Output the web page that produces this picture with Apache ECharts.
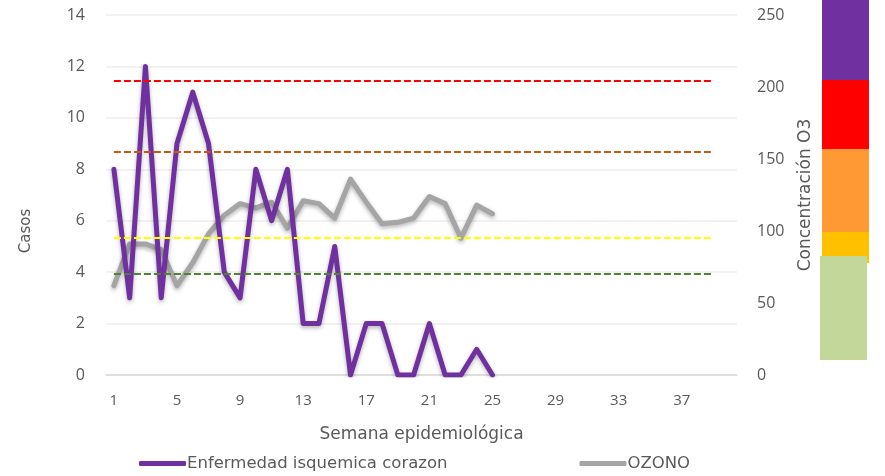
<!DOCTYPE html>
<html>
<head>
<meta charset="utf-8">
<script src="https://cdn.jsdelivr.net/npm/echarts@6/dist/echarts.min.js"></script>
<style>
  html, body { margin: 0; padding: 0; background: #fff; }
  #chart { width: 885px; height: 476px; }
</style>
</head>
<body>
<div id="chart"></div>
<script>
// semanas epidemiologicas 1..40
var semanas = [];
for (var i = 1; i <= 40; i++) semanas.push(String(i));

// casos por semana
var casos = [8, 3, 12, 3, 9, 11, 9, 4, 3, 8, 6, 8, 2, 2, 5, 0, 2, 2, 0, 0, 2, 0, 0, 1, 0];

// concentracion de ozono
var ozono = [62, 91, 91, 87, 62, 78, 98, 111, 119, 116, 120, 102, 121, 119, 109, 136,
             120, 105, 106, 109, 124, 119, 95, 118, 112];

// limites de concentracion (eje derecho)
var limites = [204, 155, 95, 70];
var limColores = ["#FF0000", "#C55A11", "#FFFF00", "#548235"];
var limFin = "39";

var txt = "#595959";
var font = "Open Sans";
var wide = "DejaVu Sans";

var chart = echarts.init(document.getElementById("chart"));

var markData = limites.map(function (v, k) {
    return [
        { coord: ["1", v], lineStyle: { color: limColores[k] } },
        { coord: [limFin, v] }
    ];
});

var option = {
    animation: false,
    textStyle: { fontFamily: font, color: txt },
    grid: { left: 106, right: 148, top: 15, bottom: 101 },
    legend: {
        data: ["Enfermedad isquemica corazon", "OZONO"],
        left: 134,
        top: 450,
        icon: "roundRect",
        itemWidth: 47,
        itemHeight: 5,
        itemGap: 132,
        textStyle: { fontFamily: wide, fontSize: 16.5, color: txt, padding: [0, 0, 0, -4] }
    },
    xAxis: {
        type: "category",
        data: semanas,
        boundaryGap: true,
        name: "Semana epidemiológica",
        nameLocation: "middle",
        nameGap: 51,
        nameTextStyle: { fontSize: 17, color: txt, fontFamily: wide },
        axisLine: { lineStyle: { color: "#D9D9D9", width: 1.5 } },
        axisTick: { show: false },
        axisLabel: { interval: 3, fontSize: 15, color: txt, margin: 18 }
    },
    yAxis: [
        {
            type: "value",
            min: 0,
            max: 14,
            interval: 2,
            name: "Casos",
            nameLocation: "middle",
            nameRotate: 90,
            nameGap: 72,
            nameTextStyle: { fontSize: 15, color: txt, fontFamily: wide, padding: [0, 72, 0, 0] },
            axisLine: { show: false },
            axisTick: { show: false },
            axisLabel: { fontSize: 16, color: txt, margin: 21 },
            splitLine: { lineStyle: { color: "#EEEEEE", width: 1.5 } }
        },
        {
            type: "value",
            min: 0,
            max: 250,
            interval: 50,
            position: "right",
            name: "Concentración O3",
            nameLocation: "middle",
            nameRotate: 90,
            nameGap: 60,
            nameTextStyle: { fontSize: 17, color: txt, fontFamily: wide },
            axisLine: { show: false },
            axisTick: { show: false },
            axisLabel: { fontSize: 16, color: txt, margin: 20 },
            splitLine: { show: false }
        }
    ],
    series: [
        {
            name: "limites",
            type: "line",
            yAxisIndex: 1,
            data: [],
            z: 1,
            markLine: {
                silent: true,
                symbol: "none",
                label: { show: false },
                lineStyle: { type: [7, 3], width: 2 },
                data: markData
            }
        },
        {
            name: "Enfermedad isquemica corazon",
            type: "line",
            data: casos,
            yAxisIndex: 0,
            symbol: "none",
            z: 3,
            itemStyle: { color: "#7030A0" },
            lineStyle: {
                color: "#7030A0",
                width: 5,
                cap: "round",
                join: "round",
                shadowColor: "rgba(0,0,0,0.3)",
                shadowBlur: 4,
                shadowOffsetY: 2
            }
        },
        {
            name: "OZONO",
            type: "line",
            data: ozono,
            yAxisIndex: 1,
            symbol: "none",
            z: 2,
            itemStyle: { color: "#A5A5A5" },
            lineStyle: {
                color: "#A5A5A5",
                width: 5,
                cap: "round",
                join: "round",
                shadowColor: "rgba(0,0,0,0.3)",
                shadowBlur: 4,
                shadowOffsetY: 2
            }
        }
    ],
    // barra de colores de calidad del aire (decorativa)
    graphic: [
        { type: "rect", shape: { x: 822, y: 0, width: 47, height: 80 }, style: { fill: "#7030A0" } },
        { type: "rect", shape: { x: 822, y: 80, width: 47, height: 69 }, style: { fill: "#FF0000" } },
        { type: "rect", shape: { x: 822, y: 149, width: 47, height: 83 }, style: { fill: "#FF9933" } },
        { type: "rect", shape: { x: 822, y: 232, width: 47, height: 31 }, style: { fill: "#FFC000" } },
        { type: "rect", shape: { x: 820, y: 256, width: 47, height: 104 }, style: { fill: "#C4D79B" } }
    ]
};

chart.setOption(option);
</script>
</body>
</html>
